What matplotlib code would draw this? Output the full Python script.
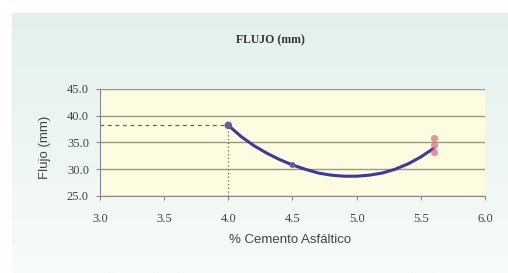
import matplotlib
matplotlib.use("Agg")
import matplotlib.pyplot as plt
import numpy as np

# trendline
curve_x = [4.0, 4.1, 4.2, 4.3, 4.4, 4.5, 4.6, 4.7, 4.8, 4.9, 5.0, 5.1, 5.2, 5.3, 5.4, 5.5, 5.6]
curve_y = [38.2, 36.1, 34.4, 33.0, 31.8, 30.8, 30.0, 29.3, 28.9, 28.7, 28.7, 28.9, 29.3, 30.0, 31.0, 32.3, 33.9]

# measured points
pts_x = [4.0, 4.5]
pts_y = [38.2, 30.8]
red_x = [5.6, 5.6, 5.6]
red_y = [35.8, 34.6, 33.3]

ref_x = 4.0
ref_y = 38.2

xticks = [3.0, 3.5, 4.0, 4.5, 5.0, 5.5, 6.0]
yticks = [25.0, 30.0, 35.0, 40.0, 45.0]

fig = plt.figure(figsize=(5.08, 2.73), dpi=100)
fig.patch.set_facecolor("white")

# panel background with soft gradient
bg = fig.add_axes([12/508, 0, 1 - 12/508, 1 - 13/273], zorder=-5)
grad = np.linspace(0, 1, 100).reshape(-1, 1)
cmap = matplotlib.colors.LinearSegmentedColormap.from_list("bg", ["#e3f1ec", "#f7fbfa"])
bg.imshow(grad, aspect="auto", cmap=cmap, extent=[0, 1, 0, 1])
bg.set_axis_off()

ax = fig.add_axes([100/508, 1 - 196/273, 385/508, 107/273])
ax.set_facecolor("#fdfbe0")
ax.set_xlim(3.0, 6.0)
ax.set_ylim(25.0, 45.0)
ax.set_xticks(xticks)
ax.set_yticks(yticks)
ax.set_xticklabels(["%.1f" % v for v in xticks], family="Liberation Serif", fontsize=9, color="#444444")
ax.set_yticklabels(["%.1f" % v for v in yticks], family="Liberation Serif", fontsize=9, color="#444444")
ax.grid(True, axis="y", color="#9a9a82", linewidth=1.0)
for s in ["top", "right"]:
    ax.spines[s].set_visible(False)
for s in ["left", "bottom"]:
    ax.spines[s].set_color("#888888")
ax.tick_params(axis="x", length=3, color="#888888", pad=9)
ax.tick_params(axis="y", length=3, color="#888888", pad=5)

ax.plot([3.0, ref_x], [ref_y, ref_y], linestyle=(0, (3, 3)), color="#666655", linewidth=0.9)
ax.plot([ref_x, ref_x], [25.0, ref_y], linestyle=(0, (1, 2)), color="#666655", linewidth=0.9)

ax.plot(curve_x, curve_y, color="#3a3aa0", linewidth=2.2, solid_capstyle="round")
ax.scatter(pts_x, pts_y, s=[20, 10], color="#6a5a90", zorder=3)
ax.scatter(red_x, red_y, s=26, color="#e06a8a", alpha=0.75, zorder=3, linewidths=0)

fig.text(270/508, 1 - 40/273, "FLUJO (mm)", ha="center", va="center",
         family="Liberation Serif", fontweight="bold", fontsize=8.5, color="#333333")
fig.text(290/508, 1 - 240/273, "% Cemento Asfáltico", ha="center", va="center",
         family="Liberation Sans", fontsize=9.5, color="#444444")
fig.text(45/508, 1 - 147/273, "Flujo (mm)", ha="center", va="center", rotation=90,
         family="Liberation Sans", fontsize=9.5, color="#444444")

fig.savefig("out.png", dpi=100)
